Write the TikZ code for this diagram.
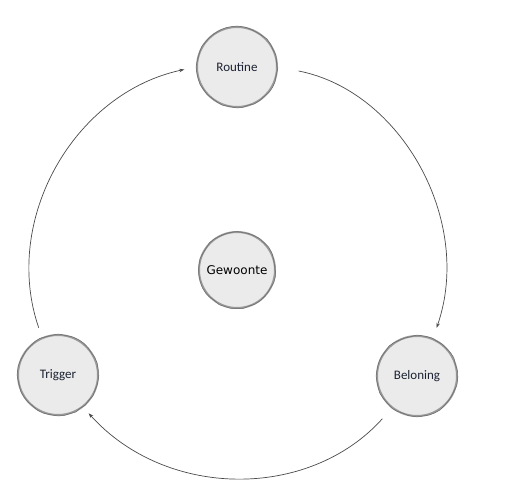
\documentclass[tikz,border=0pt]{standalone}
\usepackage{fontspec}
\setmainfont{Carlito}
\newfontfamily\hubfont{DejaVu Sans}
\usetikzlibrary{arrows.meta,decorations.pathmorphing}

\definecolor{stagefill}{HTML}{EBEBEB}
\definecolor{stageline}{HTML}{999999}
\definecolor{stagetext}{HTML}{1C2233}
\definecolor{loopline}{HTML}{4A4A4A}

\begin{document}
\begin{tikzpicture}[x=1pt, y=-1pt,
    stage/.style={circle, fill=stagefill, draw=stageline, line width=2pt,
        minimum size=80pt, text=stagetext, font=\fontsize{13}{15}\selectfont,
        postaction={draw=stageline!70!black, line width=0.5pt, decorate,
            decoration={random steps, segment length=6pt, amplitude=0.6pt}}},
    hub/.style={stage, minimum size=76pt, text=black,
        font=\hubfont\fontsize{12}{14}\selectfont},
    loop/.style={draw=loopline, line width=0.7pt, looseness=1.025,
        -{Stealth[length=5pt, width=3.5pt]}}]
    \useasboundingbox (0,0) rectangle (513,487);

    % Draw the stages
    \node[stage] (routine) at (237,67) {Routine};
    \node[stage] (trigger) at (58,375) {Trigger};
    \node[stage] (beloning) at (417,376) {Beloning};
    \node[hub] (gewoonte) at (237,270) {Gewoonte};

    % Draw the loop
    \draw[loop, shorten <=21pt, shorten >=11pt]
        (routine.0) to[out=-11, in=71] (beloning.67);
    \draw[loop, shorten <=14pt, shorten >=8pt]
        (beloning.232) to[out=228, in=312] (trigger.308);
    \draw[loop, shorten <=10pt, shorten >=12pt]
        (trigger.113) to[out=109, in=192] (routine.180);
\end{tikzpicture}
\end{document}
